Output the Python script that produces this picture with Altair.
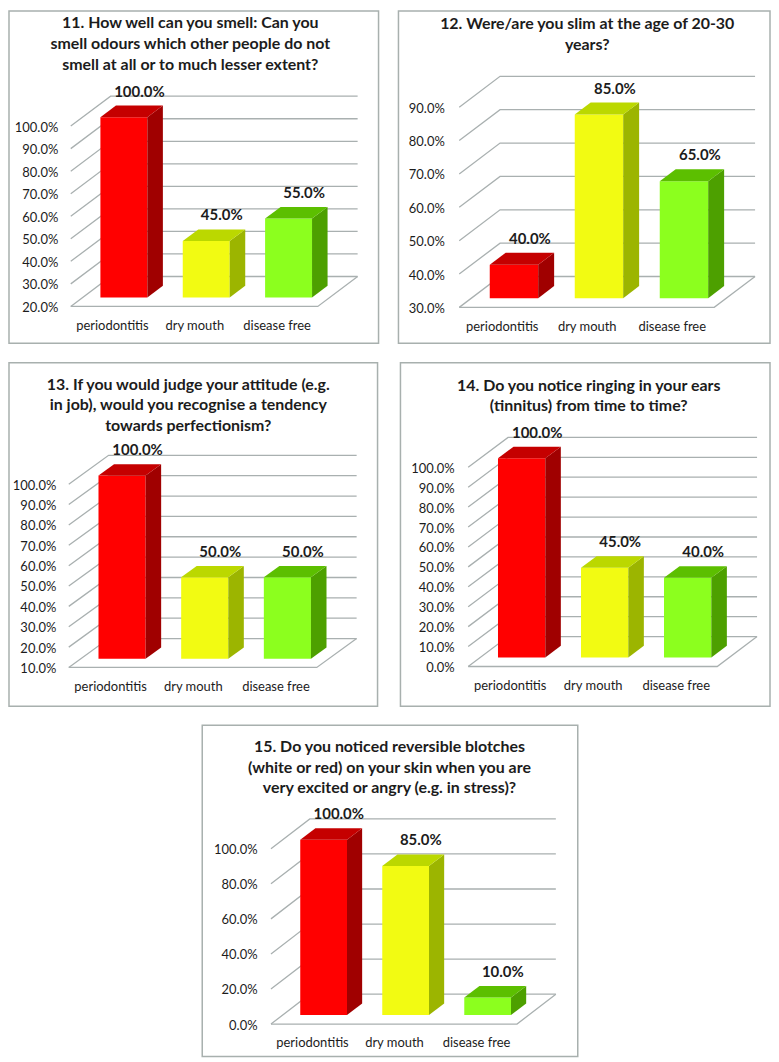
import altair as alt
import pandas as pd

groups = ["periodontitis", "dry mouth", "disease free"]
titles = {
    11: ["11. How well can you smell: Can you", "smell odours which other people do not", "smell at all or to much lesser extent?"],
    12: ["12. Were/are you slim at the age of 20-30", "years?"],
    13: ["13. If you would judge your attitude (e.g.", "in job), would you recognise a tendency", "towards perfectionism?"],
    14: ["14. Do you notice ringing in your ears", "(tinnitus) from time to time?"],
    15: ["15. Do you noticed reversible blotches", "(white or red) on your skin when you are", "very excited or angry (e.g. in stress)?"],
}
values = {
    11: [1.00, 0.45, 0.55],
    12: [0.40, 0.85, 0.65],
    13: [1.00, 0.50, 0.50],
    14: [1.00, 0.45, 0.40],
    15: [1.00, 0.85, 0.10],
}
ticks = {
    11: [0.2, 0.3, 0.4, 0.5, 0.6, 0.7, 0.8, 0.9, 1.0],
    12: [0.3, 0.4, 0.5, 0.6, 0.7, 0.8, 0.9],
    13: [0.1, 0.2, 0.3, 0.4, 0.5, 0.6, 0.7, 0.8, 0.9, 1.0],
    14: [0.0, 0.1, 0.2, 0.3, 0.4, 0.5, 0.6, 0.7, 0.8, 0.9, 1.0],
    15: [0.0, 0.2, 0.4, 0.6, 0.8, 1.0],
}
front_colors = ["#ff0000", "#f2fb12", "#8cff1e"]
top_colors = ["#c50000", "#bbd800", "#5cbf00"]
side_colors = ["#a00000", "#9cb500", "#4da000"]

# layout calibration: frame, floor geometry and text anchors of each panel
S = 2.5
layout = {
    11: dict(frame=(8, 8, 379, 344 - S), fx=(70, 318), dx=40, dy=30, y0=307 - S, y1=126 - S, lab=57, tb=28 - S, tc=190),
    12: dict(frame=(397, 8, 770, 344 - S), fx=(458, 714), dx=41, dy=31, y0=308 - S, y1=107 - S, lab=443, tb=29 - S, tc=586.5),
    13: dict(frame=(8, 361 - S, 378, 706 - S), fx=(68, 317), dx=40, dy=29, y0=667 - S, y1=483 - S, lab=55, tb=388 - S, tc=188),
    14: dict(frame=(399, 361 - S, 770, 706 - S), fx=(467, 717), dx=40, dy=30, y0=666 - S, y1=466 - S, lab=453, tb=389 - S, tc=588),
    15: dict(frame=(200, 723 - S, 577, 1053), fx=(269, 516), dx=39, dy=30, y0=1023 - S, y1=847 - S, lab=255, tb=750 - S, tc=388),
}
GRID = "#a9b0b0"
FRAME = "#a8b0ae"
TEXT = "#1c1c1c"
FONT = "Lato"
BAR_W = 0.57
FRONT_F = 0.30
BAR_F = 0.39
LINE_H = 20.7


def panel(k):
    L = layout[k]
    x0, y0, x1, y1 = L["frame"]
    w, h = x1 - x0, y1 - y0
    cat = (L["fx"][1] - L["fx"][0]) / 3
    tk = ticks[k]
    vmin, vmax = tk[0], tk[-1]
    ppv = (L["y0"] - L["y1"]) / (vmax - vmin)
    du, dv = L["dx"] / cat, L["dy"] / ppv
    u_of = lambda px: (px - L["fx"][0]) / cat - 0.5
    v_of = lambda py: vmin + (L["y0"] - py) / ppv
    xs = alt.Scale(domain=[u_of(x0), u_of(x1)], nice=False, zero=False)
    ys = alt.Scale(domain=[v_of(y1), v_of(y0)], nice=False, zero=False)
    xa = alt.Axis(
        values=[0, 1, 2], labelExpr="datum.value == 0 ? '%s' : datum.value == 1 ? '%s' : '%s'" % tuple(groups),
        orient="bottom", offset=-(y1 - (L["y0"] + 19)), domain=False, ticks=False, tickSize=0, grid=False, title=None,
        labelPadding=0, labelBaseline="middle", labelFont=FONT, labelFontSize=13, labelColor=TEXT, labelOverlap=False,
        labelFlush=False)
    ya = alt.Axis(
        values=tk, format=".1%", orient="left", offset=-(L["lab"] - x0), domain=False, ticks=False, tickSize=0,
        grid=False, title=None, labelPadding=0, labelOffset=1, labelFont=FONT, labelFontSize=13, labelColor=TEXT,
        labelOverlap=False, labelFlush=False)
    X = lambda f, **kw: alt.X(f, scale=xs, axis=xa, **kw)
    Y = lambda f, **kw: alt.Y(f, scale=ys, axis=ya, **kw)

    # wall and floor lines
    rows = []
    for t in tk:
        rows += [dict(s=t, o=0, u=-0.5, v=t), dict(s=t, o=1, u=-0.5 + du, v=t + dv), dict(s=t, o=2, u=2.5 + du, v=t + dv)]
    rows += [dict(s=-1, o=0, u=-0.5, v=vmin), dict(s=-1, o=1, u=2.5, v=vmin), dict(s=-1, o=2, u=2.5 + du, v=vmin + dv)]
    grid = alt.Chart(pd.DataFrame(rows)).mark_line(color=GRID, strokeWidth=1.3).encode(
        x=X("u:Q"), y=Y("v:Q"), detail="s:N", order="o:Q")

    # bar faces
    df_f = FRONT_F * du
    dv_f = FRONT_F * dv
    b_u = BAR_F * du
    b_v = BAR_F * dv
    front, top, side, labels = [], [], [], []
    for i, val in enumerate(values[k]):
        l = i + df_f - BAR_W / 2
        r = l + BAR_W
        tv = val + dv_f
        bv = vmin + dv_f
        front.append(dict(a=l, b=r, c=bv, d=tv, f=front_colors[i]))
        top += [dict(y=tv, a=l, b=r, f=top_colors[i]), dict(y=tv + b_v, a=l + b_u, b=r + b_u, f=top_colors[i])]
        side += [dict(x=r, c=bv, d=tv, f=side_colors[i]), dict(x=r + b_u, c=bv + b_v, d=tv + b_v, f=side_colors[i])]
        labels.append(dict(x=i + df_f + b_u, y=tv + b_v, t=val))
    fill = alt.Color("f:N", scale=None, legend=None)
    front_l = alt.Chart(pd.DataFrame(front)).mark_rect().encode(
        x=X("a:Q"), x2="b:Q", y=Y("c:Q"), y2="d:Q", color=fill)
    top_l = alt.Chart(pd.DataFrame(top)).mark_area(orient="horizontal").encode(
        y=Y("y:Q"), x=X("a:Q", stack=None), x2="b:Q", color=fill)
    side_l = alt.Chart(pd.DataFrame(side)).mark_area(orient="vertical").encode(
        x=X("x:Q"), y=Y("c:Q", stack=None), y2="d:Q", color=fill)
    text_l = alt.Chart(pd.DataFrame(labels)).mark_text(
        font=FONT, fontSize=15, fontWeight="bold", color=TEXT, baseline="alphabetic", dy=-9).encode(
        x=X("x:Q"), y=Y("y:Q"), text=alt.Text("t:Q", format=".1%"))

    # panel heading, one text per line
    head = [dict(x=u_of(L["tc"]), y=v_of(L["tb"] + n * LINE_H), t=line) for n, line in enumerate(titles[k])]
    head_l = alt.Chart(pd.DataFrame(head)).mark_text(
        font=FONT, fontSize=16, fontWeight="bold", color=TEXT, baseline="alphabetic", align="center").encode(
        x=X("x:Q"), y=Y("y:Q"), text="t:N")

    return alt.layer(grid, front_l, side_l, top_l, text_l, head_l).properties(width=w, height=h)


spacer = alt.Chart(pd.DataFrame({"a": [0]})).mark_point(opacity=0).properties(
    width=192, height=10, view=alt.ViewBackground(stroke="transparent"))

row1 = alt.hconcat(panel(11), panel(12), spacing=18)
row2 = alt.hconcat(panel(13), panel(14), spacing=21)
row3 = alt.hconcat(spacer, panel(15), spacing=0)
chart = alt.vconcat(row1, row2, row3, spacing=17).properties(padding=0, background="white").configure_view(
    stroke=FRAME, strokeWidth=1.5, fill="white")

chart.save("out.html", embed_options={"renderer": "svg", "actions": False})
